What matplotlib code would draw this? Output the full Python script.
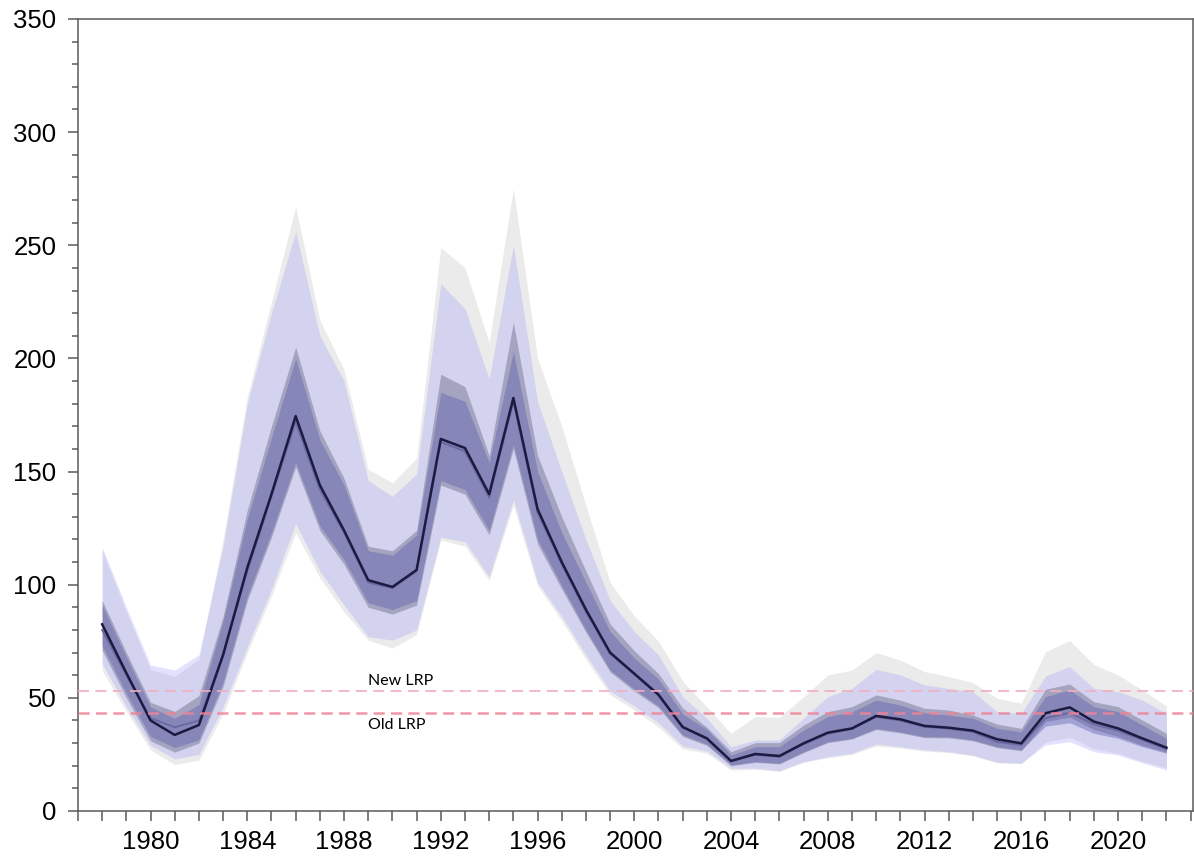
import numpy as np
import matplotlib
matplotlib.use("Agg")
import matplotlib.pyplot as plt
from matplotlib.ticker import MultipleLocator

years = np.arange(1978, 2023)

# previous run (grey): 90% interval, 50% interval, median
prev_hi90 = [115, 88, 62.5, 59.5, 67, 120, 183, 225, 267, 217, 195, 151, 145, 156, 249, 240,
             207, 275, 200, 170, 135, 101, 86.2, 75, 57.4, 46, 34.3, 41.7, 41.4, 50.5, 60.1,
             62.3, 70, 66.7, 61.6, 59.4, 56.7, 49.8, 47.6, 70.4, 75.3, 64.8, 60.1, 53.5, 46.4]
prev_hi50 = [93, 70, 48, 44, 51, 86, 133, 170, 205, 168, 147, 117, 115, 124, 193, 187.5,
             157, 216, 157, 130, 106, 82.6, 70.8, 60.7, 45.5, 37, 26.2, 30.2, 30.2, 38, 43.9,
             46.1, 51.3, 49, 45.4, 44.6, 42.4, 38.4, 36.5, 53.8, 56.1, 48.3, 46.1, 40.2, 34.3]
prev_med = [80, 60, 41, 37, 40, 69, 106, 139, 172, 142, 123, 101, 98.5, 106, 163, 159,
            138.5, 181, 132, 109, 88, 69.5, 60.3, 51, 37, 31.8, 22, 24.8, 24, 29.5, 34.2,
            36.2, 41.6, 40, 37.2, 36.4, 35, 30.5, 29.2, 41, 43.4, 38.3, 35.5, 31.5, 27.3]
prev_lo50 = [71, 50, 31, 26, 30, 55, 93, 121, 152, 124, 109, 90, 87, 91, 144, 140,
             122, 160, 118, 98, 79, 61.5, 53, 45.6, 33, 29, 20, 21.5, 20.8, 25.8, 30.2,
             31.8, 36, 34.5, 32.4, 32.3, 31, 28, 26.6, 39.5, 41.5, 36, 33, 29, 26]
prev_lo90 = [62, 44, 27, 20.5, 22.5, 43, 70, 95, 123, 103, 88, 75.5, 72, 78, 119.8, 117,
             102, 135, 99.5, 84, 67, 51.4, 44.6, 37.1, 27.5, 25.5, 18.1, 18.4, 17.5, 21.5, 23.5,
             25, 28.7, 27.8, 26.5, 25.8, 24.3, 21.3, 21, 30.5, 32.5, 27.5, 25.5, 22, 19]

# current run (purple)
curr_hi90 = [116.5, 90, 64.5, 62.3, 69, 117, 180, 220, 256, 210, 190, 146, 139, 149, 233, 222,
             191, 250, 181, 150, 120, 93, 79.3, 69, 50.5, 41, 28.4, 31.4, 31.4, 41, 50.5,
             54.2, 62.6, 60.1, 55.7, 54.2, 52.7, 43.9, 43.2, 59.7, 63.8, 54.2, 52.7, 49, 43.2]
curr_hi50 = [91, 68, 46, 41, 47, 84, 129, 165, 200, 164, 144, 115, 113, 122, 185, 181,
             154, 203, 150, 123, 101, 79.3, 67.6, 58.3, 42.9, 36, 24.7, 28.4, 28.4, 35.8, 41.7,
             43.9, 49, 46.8, 43.4, 42.4, 41, 36.5, 35, 50.5, 53.5, 46.1, 43.9, 38, 32.1]
curr_med = [82.5, 61, 40, 33.6, 38, 69, 107.5, 140, 174.5, 144, 124, 102, 99, 106.5, 164.4, 160.4,
            140, 182.5, 133.4, 110, 89, 70, 60.7, 51.4, 37.1, 32.1, 22.1, 25.2, 24.3, 29.9, 34.6,
            36.5, 42, 40.5, 37.6, 36.8, 35.5, 31.7, 29.9, 43.2, 45.8, 39.5, 36.5, 32.1, 28]
curr_lo50 = [73, 52, 33, 28, 31.5, 57, 95, 123, 154, 126, 111, 92, 89, 93, 146, 142,
             124, 162, 120, 99.6, 80, 62.3, 53.9, 46.4, 33.6, 29.5, 20.3, 21.8, 21.1, 26.2, 30.6,
             32.1, 36.5, 35, 32.8, 32.8, 31.4, 28.4, 27, 37.5, 39, 34.3, 32.1, 28.4, 25.5]
curr_lo90 = [65, 46, 29, 23, 25, 46, 72.5, 98, 127, 106, 91, 77, 75.5, 80, 121, 119,
             103.5, 137.5, 101, 86, 69, 53, 46.4, 38.9, 28.7, 26.5, 18.9, 18.9, 17.8, 21.8, 24,
             25.5, 29.6, 28.4, 27, 26.2, 24.7, 21.5, 21.1, 29.2, 30.6, 26.2, 24.7, 21.3, 18.1]

new_lrp = 53.2
old_lrp = 43.2

plt.rcParams["font.family"] = ["Liberation Sans", "DejaVu Sans"]
plt.rcParams["lines.scale_dashes"] = False

fig = plt.figure(figsize=(11.94, 8.58), dpi=100)
ax = fig.add_axes([0.0653, 0.0548, 0.9339, 0.9231])

# grey run underneath, opaque
ax.fill_between(years, prev_lo90, prev_hi90, color="#ebebeb", lw=0, zorder=1)
ax.fill_between(years, prev_lo50, prev_hi50, color="#adadad", lw=0, zorder=2)
ax.plot(years, prev_med, color="#6e6e7e", lw=1.4, zorder=3)

# purple run on top, translucent
ax.fill_between(years, curr_lo90, curr_hi90, color=(0.55, 0.55, 1.0), alpha=0.25, lw=0, zorder=4)
ax.fill_between(years, curr_lo50, curr_hi50, color=(0.35, 0.35, 0.67), alpha=0.4, lw=0, zorder=5)
ax.plot(years, curr_med, color="#1c1a40", lw=1.8, zorder=6)

ax.axhline(new_lrp, color="#f2aebc", lw=1.4, ls=(0, (8, 4.5)), alpha=0.85, zorder=7)
ax.axhline(old_lrp, color="#ee8498", lw=1.8, ls=(0, (8, 4.5)), alpha=0.85, zorder=7)
ax.text(1989, new_lrp + 1.3, "New LRP", family=["Lato", "DejaVu Sans"], fontsize=11.5,
        ha="left", va="bottom", zorder=8)
ax.text(1989, old_lrp - 2.0, "Old LRP", family=["Lato", "DejaVu Sans"], fontsize=11.5,
        ha="left", va="top", zorder=8)

ax.set_xlim(1977, 2023.1)
ax.set_ylim(0, 350)
ax.xaxis.set_major_locator(MultipleLocator(4))
ax.xaxis.set_minor_locator(MultipleLocator(1))
ax.set_xticks(range(1980, 2023, 4))
ax.yaxis.set_major_locator(MultipleLocator(50))
ax.yaxis.set_minor_locator(MultipleLocator(10))

for s in ax.spines.values():
    s.set_color("#5a5a5a")
    s.set_linewidth(1.1)
ax.tick_params(axis="both", which="both", direction="out", color="#5a5a5a", width=1.1,
               labelsize=18.5)
ax.tick_params(axis="y", which="major", length=7.5, pad=8)
ax.tick_params(axis="y", which="minor", length=4.5)
ax.tick_params(axis="x", which="both", length=7.5, pad=6)

fig.savefig("out.png", dpi=100)
